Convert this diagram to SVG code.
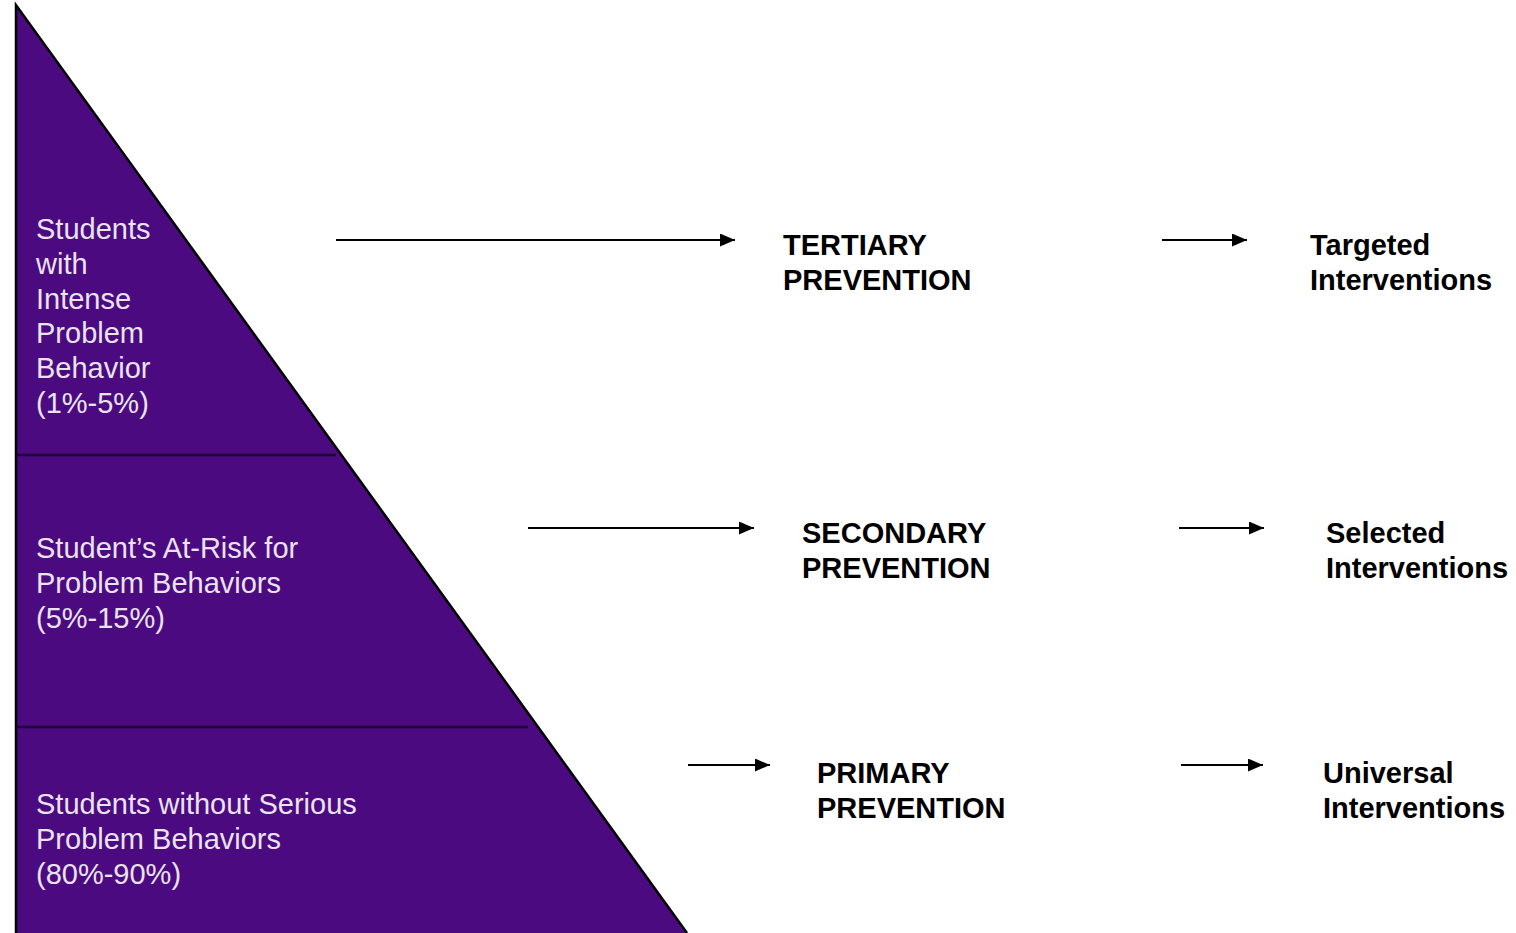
<svg xmlns="http://www.w3.org/2000/svg" width="1516" height="933" viewBox="0 0 1516 933">
  <defs>
    <marker id="arrowhead" viewBox="0 0 15 13" refX="15" refY="6.5" markerWidth="15" markerHeight="13" markerUnits="userSpaceOnUse" orient="auto">
      <path d="M0,0 L15,6.5 L0,13 Z" fill="#000"/>
    </marker>
    <style>
      .tier-label { font-family: "Liberation Sans", Arial, sans-serif; font-size: 29px; fill: #E8E3EE; }
      .level { font-family: "Liberation Sans", Arial, sans-serif; font-size: 29px; font-weight: bold; fill: #000; }
      .arrow { stroke: #000; stroke-width: 2; fill: none; marker-end: url(#arrowhead); }
      .divider { stroke: #1a0030; stroke-width: 2.5; }
    </style>
  </defs>
  <rect width="1516" height="933" fill="#fff"/>

  <!-- pyramid -->
  <g id="pyramid">
    <path d="M16,5 L687,933 L16,933 Z" fill="#4C0A80"/>
    <path d="M16,933 L16,5 L687,933" fill="none" stroke="#000" stroke-width="2.5"/>
    <line class="divider" x1="16" y1="455" x2="336" y2="455"/>
    <line class="divider" x1="16" y1="727" x2="528" y2="727"/>
  </g>

  <g id="tier-top">
    <text class="tier-label">
      <tspan x="36" y="239">Students</tspan>
      <tspan x="36" y="274">with</tspan>
      <tspan x="36" y="309">Intense</tspan>
      <tspan x="36" y="343">Problem</tspan>
      <tspan x="36" y="378">Behavior</tspan>
      <tspan x="36" y="413">(1%-5%)</tspan>
    </text>
  </g>
  <g id="tier-middle">
    <text class="tier-label">
      <tspan x="36" y="558">Student’s At-Risk for</tspan>
      <tspan x="36" y="593">Problem Behaviors</tspan>
      <tspan x="36" y="628">(5%-15%)</tspan>
    </text>
  </g>
  <g id="tier-bottom">
    <text class="tier-label">
      <tspan x="36" y="814">Students without Serious</tspan>
      <tspan x="36" y="849">Problem Behaviors</tspan>
      <tspan x="36" y="884">(80%-90%)</tspan>
    </text>
  </g>

  <g id="tertiary">
    <text class="level"><tspan x="783" y="255">TERTIARY</tspan><tspan x="783" y="290">PREVENTION</tspan></text>
  </g>
  <g id="targeted">
    <text class="level"><tspan x="1310" y="255">Targeted</tspan><tspan x="1310" y="290">Interventions</tspan></text>
  </g>
  <g id="secondary">
    <text class="level"><tspan x="802" y="543">SECONDARY</tspan><tspan x="802" y="578">PREVENTION</tspan></text>
  </g>
  <g id="selected">
    <text class="level"><tspan x="1326" y="543">Selected</tspan><tspan x="1326" y="578">Interventions</tspan></text>
  </g>
  <g id="primary">
    <text class="level"><tspan x="817" y="783">PRIMARY</tspan><tspan x="817" y="818">PREVENTION</tspan></text>
  </g>
  <g id="universal">
    <text class="level"><tspan x="1323" y="783">Universal</tspan><tspan x="1323" y="818">Interventions</tspan></text>
  </g>

  <g id="connectors">
    <line class="arrow" x1="336" y1="240" x2="735" y2="240"/>
    <line class="arrow" x1="1162" y1="240" x2="1247" y2="240"/>
    <line class="arrow" x1="528" y1="528" x2="754" y2="528"/>
    <line class="arrow" x1="1179" y1="528" x2="1264" y2="528"/>
    <line class="arrow" x1="688" y1="765" x2="770" y2="765"/>
    <line class="arrow" x1="1181" y1="765" x2="1263" y2="765"/>
  </g>
</svg>
